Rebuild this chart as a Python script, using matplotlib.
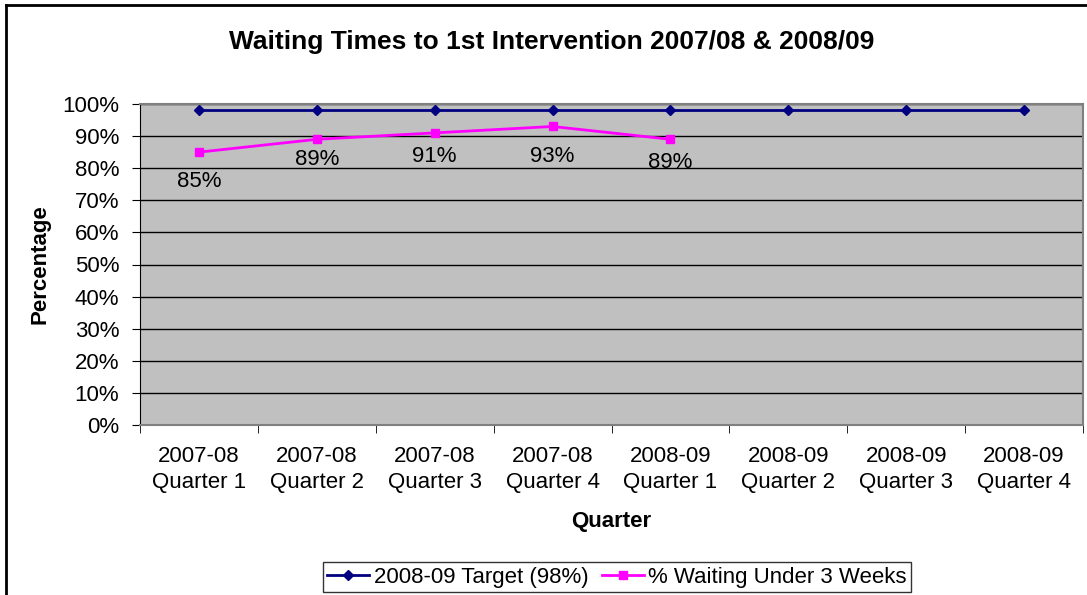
import matplotlib.pyplot as plt
from matplotlib.lines import Line2D

plt.rcParams['font.family'] = ['Liberation Sans', 'DejaVu Sans']

quarters = ['2007-08\nQuarter 1', '2007-08\nQuarter 2', '2007-08\nQuarter 3', '2007-08\nQuarter 4',
            '2008-09\nQuarter 1', '2008-09\nQuarter 2', '2008-09\nQuarter 3', '2008-09\nQuarter 4']
target = [98, 98, 98, 98, 98, 98, 98, 98]
waiting = [85, 89, 91, 93, 89]
yticks = list(range(0, 101, 10))

W, H = 1087, 595
fig = plt.figure(figsize=(W / 100, H / 100), dpi=100)
ax = fig.add_axes([140 / W, 1 - 425 / H, 943 / W, 321 / H])
ax.set_facecolor('#c0c0c0')

x = list(range(len(quarters)))
ax.plot(x, target, color='#000080', marker='D', markersize=5, linewidth=2, label='2008-09 Target (98%)')
ax.plot(x[:len(waiting)], waiting, color='#ff00ff', marker='s', markersize=6, linewidth=2,
        label='% Waiting Under 3 Weeks')

# label offsets below the point, in pixels
label_drop = [29, 20, 24, 30, 23]
for xi, v, d in zip(x, waiting, label_drop):
    ax.annotate(f'{v}%', (xi, v), xytext=(0, -d * 0.72), textcoords='offset points',
                ha='center', va='center', fontsize=16)

ax.set_xlim(-0.5, len(quarters) - 0.5)
ax.set_ylim(0, 100)
ax.set_yticks(yticks)
ax.set_yticklabels([f'{t}%' for t in yticks], fontsize=16)
ax.yaxis.grid(True, color='black', linewidth=1)
ax.set_axisbelow(True)

ax.set_xticks(x)
ax.set_xticklabels(quarters, fontsize=16, linespacing=1.3)
ax.set_xticks([i + 0.5 for i in range(-1, len(quarters))], minor=True)
ax.tick_params(axis='x', which='major', length=0, pad=15)
ax.tick_params(axis='x', which='minor', length=6, direction='out')
ax.tick_params(axis='y', length=6, direction='out', pad=9)

for side in ['top', 'right', 'bottom']:
    ax.spines[side].set_color('#808080')
    ax.spines[side].set_linewidth(1.5)
ax.spines['left'].set_color('black')

fig.text(611 / W, 1 - 521 / H, 'Quarter', ha='center', va='center', fontsize=16, fontweight='bold')
fig.text(40 / W, 1 - 264 / H, 'Percentage', ha='center', va='center', rotation=90,
         fontsize=16, fontweight='bold')
fig.text(552 / W, 1 - 42 / H, 'Waiting Times to 1st Intervention 2007/08 & 2008/09',
         ha='center', va='center', fontsize=19, fontweight='bold')

leg = ax.legend(loc='center', bbox_to_anchor=(617 / W, 1 - 577 / H), bbox_transform=fig.transFigure,
                ncol=2, fontsize=16, frameon=True, fancybox=False, edgecolor='black',
                handlelength=1.9, columnspacing=0.6, handletextpad=0.2, borderpad=0.2)
leg.get_frame().set_linewidth(1)

# chart border (left and top)
fig.add_artist(Line2D([6 / W, 6 / W], [0, 1 - 5 / H], transform=fig.transFigure, color='black', linewidth=2))
fig.add_artist(Line2D([6 / W, 1], [1 - 5 / H, 1 - 5 / H], transform=fig.transFigure, color='black', linewidth=2))

fig.savefig('out.png', dpi=100)
